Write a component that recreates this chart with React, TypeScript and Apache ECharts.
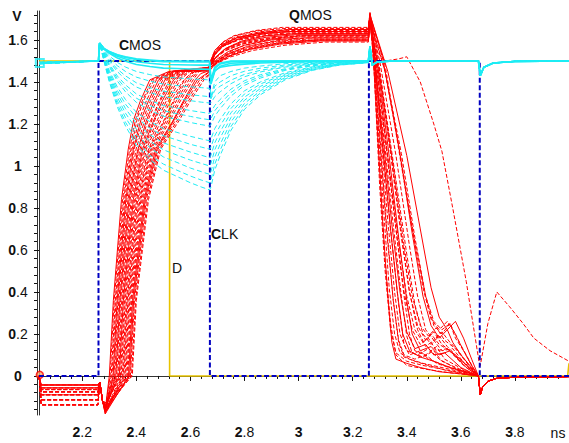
import React, { useEffect, useRef } from "react";
import * as echarts from "echarts";

const FONT = "'Liberation Sans', Arial, sans-serif";

// axis ranges & ticks
const xMin = 2.04;
const xMax = 4.0;
const yMin = -0.186;
const yMax = 1.738;
const xMajorTicks = [2.2, 2.4, 2.6, 2.8, 3, 3.2, 3.4, 3.6, 3.8];
const xMinorTicks = [2.04, 2.08, 2.12, 2.16, 2.24, 2.28, 2.32, 2.36, 2.44, 2.48, 2.52, 2.56, 2.64, 2.68, 2.72, 2.76, 2.84, 2.88, 2.92, 2.96, 3.04, 3.08, 3.12, 3.16, 3.24, 3.28, 3.32, 3.36, 3.44, 3.48, 3.52, 3.56, 3.64, 3.68, 3.72, 3.76, 3.84, 3.88, 3.92, 3.96];
const yMajorTicks = [0, 0.2, 0.4, 0.6, 0.8, 1, 1.2, 1.4, 1.6];
const yMinorTicks = [-0.16, -0.12, -0.08, -0.04, 0.04, 0.08, 0.12, 0.16, 0.24, 0.28, 0.32, 0.36, 0.44, 0.48, 0.52, 0.56, 0.64, 0.68, 0.72, 0.76, 0.84, 0.88, 0.92, 0.96, 1.04, 1.08, 1.12, 1.16, 1.24, 1.28, 1.32, 1.36, 1.44, 1.48, 1.52, 1.56, 1.64, 1.68, 1.72];

// CLK (blue dashed)
const clkX = [2.04, 2.26, 2.26, 2.672, 2.672, 3.26, 3.26, 3.67, 3.67, 4.0];
const clkY = [0, 0, 1.5, 1.5, 0, 0, 1.5, 1.5, 0, 0];

// D (yellow)
const dX = [2.04, 2.523, 2.523, 3.995, 4.0];
const dY = [1.5, 1.5, 0, 0, 0.06];

// QMOS (red) curves
const redLow = [-0.043, -0.138, -0.057, -0.114, -0.076, -0.09, -0.043, -0.065, -0.114, -0.057, -0.09, -0.076, -0.138, -0.043, -0.065, -0.114, -0.076, -0.09, -0.057, -0.138, -0.065, -0.114, -0.043, -0.09, -0.138, -0.076];
const redHead = [[2.258, null], [2.265, -0.03], [2.275, -0.12]];
const redRise = [
  [[2.285, -0.16], [2.3, 0], [2.315, 0.36], [2.345, 0.84], [2.37, 1.08], [2.39, 1.22], [2.415, 1.31], [2.45, 1.41], [2.52, 1.45], [2.668, 1.47]],
  [[2.287, -0.15], [2.331, 0], [2.346, 0.36], [2.381, 0.84], [2.413, 1.08], [2.451, 1.21], [2.482, 1.3], [2.522, 1.41], [2.57, 1.45], [2.668, 1.463]],
  [[2.284, -0.17], [2.307, 0], [2.322, 0.36], [2.353, 0.84], [2.38, 1.08], [2.404, 1.23], [2.43, 1.32], [2.466, 1.41], [2.531, 1.45], [2.668, 1.468]],
  [[2.286, -0.16], [2.351, 0], [2.366, 0.36], [2.405, 0.84], [2.442, 1.07], [2.492, 1.22], [2.526, 1.31], [2.57, 1.4], [2.604, 1.445], [2.668, 1.458]],
  [[2.288, -0.14], [2.317, 0], [2.332, 0.36], [2.365, 0.84], [2.394, 1.09], [2.424, 1.22], [2.452, 1.31], [2.49, 1.41], [2.548, 1.45], [2.668, 1.466]],
  [[2.285, -0.18], [2.371, 0], [2.386, 0.36], [2.429, 0.84], [2.471, 1.08], [2.533, 1.21], [2.57, 1.3], [2.618, 1.41], [2.638, 1.44], [2.668, 1.453]],
  [[2.287, -0.15], [2.31, 0], [2.325, 0.36], [2.357, 0.84], [2.384, 1.08], [2.41, 1.22], [2.437, 1.31], [2.474, 1.41], [2.537, 1.45], [2.668, 1.468]],
  [[2.29, -0.13], [2.341, 0], [2.356, 0.36], [2.393, 0.84], [2.428, 1.08], [2.472, 1.23], [2.504, 1.31], [2.546, 1.41], [2.587, 1.45], [2.668, 1.46]],
  [[2.286, -0.17], [2.361, 0], [2.376, 0.36], [2.417, 0.84], [2.456, 1.08], [2.512, 1.22], [2.548, 1.31], [2.594, 1.41], [2.621, 1.45], [2.668, 1.456]],
  [[2.288, -0.15], [2.324, 0], [2.339, 0.36], [2.373, 0.84], [2.404, 1.07], [2.438, 1.22], [2.467, 1.31], [2.506, 1.41], [2.559, 1.45], [2.668, 1.464]],
  [[2.285, -0.16], [2.382, 0], [2.397, 0.36], [2.441, 0.84], [2.485, 1.08], [2.553, 1.22], [2.593, 1.31], [2.642, 1.41], [2.668, 1.435]],
  [[2.289, -0.14], [2.334, 0], [2.349, 0.36], [2.385, 0.84], [2.418, 1.08], [2.458, 1.22], [2.489, 1.31], [2.53, 1.41], [2.576, 1.45], [2.668, 1.462]],
  [[2.286, -0.17], [2.354, 0], [2.369, 0.36], [2.409, 0.84], [2.447, 1.08], [2.499, 1.21], [2.533, 1.3], [2.578, 1.41], [2.61, 1.45], [2.668, 1.457]],
  [[2.288, -0.15], [2.314, 0], [2.329, 0.36], [2.361, 0.84], [2.389, 1.08], [2.417, 1.22], [2.445, 1.31], [2.482, 1.41], [2.542, 1.45], [2.668, 1.467]],
  [[2.287, -0.16], [2.344, 0], [2.359, 0.36], [2.397, 0.84], [2.432, 1.08], [2.478, 1.22], [2.511, 1.31], [2.554, 1.41], [2.593, 1.45], [2.668, 1.46]],
  [[2.29, -0.13], [2.385, 0], [2.4, 0.36], [2.445, 0.84], [2.49, 1.08], [2.56, 1.22], [2.6, 1.31], [2.65, 1.41], [2.668, 1.43]],
  [[2.285, -0.16], [2.303, 0], [2.318, 0.36], [2.349, 0.84], [2.375, 1.08], [2.397, 1.22], [2.422, 1.31], [2.458, 1.41], [2.526, 1.45], [2.668, 1.469]],
  [[2.287, -0.15], [2.327, 0], [2.342, 0.36], [2.377, 0.84], [2.408, 1.08], [2.444, 1.22], [2.474, 1.31], [2.514, 1.41], [2.565, 1.45], [2.668, 1.464]],
  [[2.286, -0.17], [2.375, 0], [2.39, 0.36], [2.433, 0.84], [2.476, 1.08], [2.54, 1.22], [2.578, 1.31], [2.626, 1.41], [2.668, 1.448]],
  [[2.288, -0.14], [2.32, 0], [2.335, 0.36], [2.369, 0.84], [2.399, 1.08], [2.431, 1.22], [2.459, 1.31], [2.498, 1.41], [2.554, 1.45], [2.668, 1.465]],
  [[2.285, -0.18], [2.348, 0], [2.363, 0.36], [2.401, 0.84], [2.437, 1.08], [2.485, 1.22], [2.519, 1.31], [2.562, 1.41], [2.598, 1.45], [2.668, 1.459]],
  [[2.287, -0.15], [2.365, 0], [2.38, 0.36], [2.421, 0.84], [2.461, 1.08], [2.519, 1.22], [2.556, 1.31], [2.602, 1.41], [2.626, 1.45], [2.668, 1.455]],
  [[2.29, -0.13], [2.337, 0], [2.352, 0.36], [2.389, 0.84], [2.423, 1.08], [2.465, 1.22], [2.496, 1.31], [2.538, 1.41], [2.582, 1.45], [2.668, 1.461]],
  [[2.286, -0.17], [2.358, 0], [2.373, 0.36], [2.413, 0.84], [2.452, 1.08], [2.506, 1.22], [2.541, 1.31], [2.586, 1.41], [2.615, 1.45], [2.668, 1.456]],
  [[2.288, -0.15], [2.378, 0], [2.393, 0.36], [2.437, 0.84], [2.48, 1.08], [2.546, 1.22], [2.585, 1.31], [2.634, 1.41], [2.668, 1.445]],
  [[2.287, -0.16], [2.368, 0], [2.383, 0.36], [2.425, 0.84], [2.466, 1.08], [2.526, 1.22], [2.563, 1.31], [2.61, 1.41], [2.632, 1.45], [2.668, 1.454]],
];
const redJump = [
  [[2.675, 1.5], [2.69, 1.54], [2.72, 1.58], [2.77, 1.61], [2.85, 1.63], [2.95, 1.64]],
  [[2.675, 1.49], [2.695, 1.52], [2.73, 1.55], [2.79, 1.58], [2.88, 1.605], [3.0, 1.62]],
  [[2.675, 1.5], [2.69, 1.55], [2.72, 1.59], [2.76, 1.62], [2.84, 1.645], [2.94, 1.66]],
  [[2.675, 1.48], [2.7, 1.5], [2.74, 1.53], [2.81, 1.56], [2.92, 1.585], [3.06, 1.6]],
  [[2.675, 1.49], [2.69, 1.53], [2.72, 1.57], [2.78, 1.6], [2.87, 1.62], [2.97, 1.63]],
  [[2.675, 1.48], [2.7, 1.51], [2.74, 1.545], [2.8, 1.575], [2.9, 1.6], [3.02, 1.61]],
  [[2.675, 1.5], [2.69, 1.545], [2.72, 1.585], [2.77, 1.615], [2.86, 1.64], [2.96, 1.65]],
  [[2.675, 1.47], [2.7, 1.49], [2.75, 1.52], [2.83, 1.55], [2.95, 1.575], [3.1, 1.59]],
  [[2.675, 1.48], [2.695, 1.52], [2.73, 1.555], [2.79, 1.585], [2.89, 1.61], [3.0, 1.62]],
  [[2.675, 1.48], [2.69, 1.53], [2.72, 1.57], [2.78, 1.605], [2.87, 1.63], [2.97, 1.64]],
  [[2.675, 1.48], [2.7, 1.505], [2.74, 1.535], [2.81, 1.565], [2.92, 1.59], [3.05, 1.6]],
  [[2.675, 1.48], [2.695, 1.52], [2.73, 1.56], [2.79, 1.595], [2.88, 1.62], [2.99, 1.63]],
  [[2.675, 1.47], [2.7, 1.5], [2.745, 1.535], [2.81, 1.57], [2.91, 1.595], [3.04, 1.61]],
  [[2.675, 1.48], [2.69, 1.53], [2.72, 1.575], [2.77, 1.61], [2.86, 1.635], [2.97, 1.65]],
  [[2.675, 1.46], [2.7, 1.5], [2.74, 1.54], [2.8, 1.575], [2.9, 1.605], [3.02, 1.62]],
  [[2.675, 1.47], [2.7, 1.495], [2.75, 1.53], [2.82, 1.56], [2.93, 1.585], [3.08, 1.6]],
  [[2.675, 1.48], [2.695, 1.515], [2.73, 1.55], [2.79, 1.58], [2.89, 1.603], [3.01, 1.615]],
  [[2.675, 1.49], [2.69, 1.535], [2.72, 1.575], [2.775, 1.61], [2.86, 1.635], [2.96, 1.645]],
  [[2.675, 1.47], [2.7, 1.495], [2.745, 1.525], [2.82, 1.555], [2.93, 1.58], [3.08, 1.595]],
  [[2.675, 1.49], [2.69, 1.53], [2.72, 1.57], [2.78, 1.603], [2.87, 1.625], [2.98, 1.635]],
  [[2.675, 1.5], [2.69, 1.55], [2.72, 1.59], [2.765, 1.62], [2.845, 1.643], [2.95, 1.655]],
  [[2.675, 1.47], [2.7, 1.5], [2.74, 1.535], [2.805, 1.567], [2.91, 1.592], [3.04, 1.605]],
  [[2.675, 1.48], [2.695, 1.52], [2.73, 1.558], [2.79, 1.59], [2.88, 1.613], [2.99, 1.625]],
  [[2.675, 1.49], [2.69, 1.535], [2.72, 1.573], [2.78, 1.607], [2.87, 1.63], [2.97, 1.64]],
  [[2.675, 1.46], [2.7, 1.49], [2.75, 1.525], [2.82, 1.557], [2.93, 1.585], [3.07, 1.6]],
  [[2.675, 1.48], [2.695, 1.52], [2.73, 1.56], [2.79, 1.595], [2.88, 1.62], [2.99, 1.63]],
];
const redFall = [
  [[3.258, 1.64], [3.264, 1.72], [3.272, 1.62], [3.29, 1.2], [3.31, 0.75], [3.33, 0.38], [3.345, 0.16], [3.36, 0.08], [3.4, 0.06], [3.45, 0.04], [3.52, 0.02], [3.6, 0.01], [3.665, 0.0]],
  [[3.258, 1.62], [3.264, 1.71], [3.275, 1.58], [3.3, 1.15], [3.325, 0.72], [3.35, 0.36], [3.37, 0.16], [3.39, 0.09], [3.43, 0.07], [3.48, 0.05], [3.55, 0.025], [3.62, 0.01], [3.665, 0.0]],
  [[3.258, 1.66], [3.264, 1.73], [3.28, 1.55], [3.31, 1.12], [3.34, 0.7], [3.37, 0.34], [3.39, 0.15], [3.41, 0.1], [3.45, 0.12], [3.48, 0.08], [3.54, 0.05], [3.61, 0.02], [3.665, 0.0]],
  [[3.258, 1.6], [3.264, 1.69], [3.28, 1.52], [3.32, 1.08], [3.35, 0.72], [3.38, 0.38], [3.4, 0.19], [3.42, 0.11], [3.46, 0.09], [3.5, 0.12], [3.53, 0.07], [3.6, 0.03], [3.665, 0.0]],
  [[3.258, 1.63], [3.264, 1.72], [3.285, 1.52], [3.32, 1.15], [3.36, 0.7], [3.39, 0.38], [3.41, 0.2], [3.43, 0.12], [3.47, 0.1], [3.51, 0.14], [3.54, 0.08], [3.61, 0.03], [3.665, 0.0]],
  [[3.258, 1.61], [3.264, 1.7], [3.29, 1.5], [3.33, 1.1], [3.37, 0.66], [3.4, 0.36], [3.42, 0.2], [3.45, 0.12], [3.49, 0.14], [3.52, 0.1], [3.56, 0.12], [3.62, 0.04], [3.665, 0.0]],
  [[3.258, 1.65], [3.264, 1.73], [3.29, 1.55], [3.34, 1.08], [3.38, 0.68], [3.41, 0.4], [3.44, 0.22], [3.47, 0.14], [3.5, 0.17], [3.53, 0.12], [3.57, 0.13], [3.62, 0.05], [3.665, 0.0]],
  [[3.258, 1.59], [3.264, 1.68], [3.3, 1.45], [3.35, 1.02], [3.4, 0.58], [3.43, 0.34], [3.46, 0.2], [3.49, 0.15], [3.52, 0.19], [3.55, 0.14], [3.58, 0.1], [3.63, 0.04], [3.665, 0.0]],
  [[3.258, 1.62], [3.264, 1.71], [3.3, 1.5], [3.36, 1.05], [3.41, 0.62], [3.44, 0.38], [3.47, 0.22], [3.5, 0.17], [3.53, 0.21], [3.56, 0.16], [3.59, 0.12], [3.63, 0.05], [3.665, 0.0]],
  [[3.258, 1.64], [3.264, 1.72], [3.31, 1.52], [3.37, 1.1], [3.42, 0.68], [3.46, 0.38], [3.49, 0.24], [3.52, 0.18], [3.55, 0.22], [3.57, 0.16], [3.6, 0.1], [3.64, 0.04], [3.665, 0.0]],
  [[3.258, 1.6], [3.264, 1.69], [3.32, 1.45], [3.38, 1.06], [3.43, 0.66], [3.47, 0.38], [3.5, 0.24], [3.53, 0.2], [3.56, 0.25], [3.58, 0.18], [3.61, 0.12], [3.64, 0.05], [3.665, 0.0]],
  [[3.258, 1.63], [3.264, 1.71], [3.32, 1.48], [3.37, 1.08], [3.42, 0.7], [3.46, 0.42], [3.49, 0.27], [3.52, 0.22], [3.55, 0.26], [3.58, 0.2], [3.61, 0.12], [3.64, 0.05], [3.665, 0.0]],
  [[3.258, 1.61], [3.264, 1.7], [3.32, 1.45], [3.38, 1.02], [3.43, 0.64], [3.47, 0.38], [3.5, 0.26], [3.53, 0.22], [3.56, 0.25], [3.59, 0.17], [3.62, 0.1], [3.645, 0.04], [3.665, 0.0]],
  [[3.258, 1.65], [3.264, 1.72], [3.33, 1.45], [3.4, 1.05], [3.45, 0.7], [3.49, 0.42], [3.52, 0.28], [3.55, 0.22], [3.58, 0.26], [3.61, 0.18], [3.64, 0.08], [3.665, 0.0]],
  [[3.258, 1.62], [3.264, 1.71], [3.28, 1.45], [3.3, 1.0], [3.32, 0.55], [3.34, 0.25], [3.36, 0.1], [3.4, 0.05], [3.48, 0.03], [3.56, 0.015], [3.665, 0.0]],
  [[3.258, 1.6], [3.264, 1.69], [3.28, 1.56], [3.32, 1.5], [3.37, 1.51], [3.4, 1.52], [3.45, 1.4], [3.5, 1.2], [3.53, 1.07], [3.57, 0.8], [3.62, 0.45], [3.667, 0.07], [3.672, 0.05], [3.7, 0.25], [3.733, 0.4], [3.78, 0.33], [3.83, 0.25], [3.87, 0.18], [3.93, 0.12], [4.0, 0.07]],
  [[3.258, 1.615], [3.264, 1.7], [3.275, 1.56], [3.3, 1.12], [3.325, 0.7], [3.35, 0.36], [3.37, 0.17], [3.39, 0.1], [3.43, 0.08], [3.47, 0.1], [3.51, 0.06], [3.58, 0.03], [3.665, 0.0]],
  [[3.258, 1.645], [3.264, 1.72], [3.28, 1.54], [3.305, 1.14], [3.33, 0.74], [3.355, 0.4], [3.375, 0.2], [3.4, 0.12], [3.44, 0.1], [3.48, 0.13], [3.52, 0.08], [3.59, 0.03], [3.665, 0.0]],
  [[3.258, 1.595], [3.264, 1.68], [3.28, 1.5], [3.315, 1.1], [3.345, 0.72], [3.375, 0.4], [3.4, 0.21], [3.43, 0.13], [3.47, 0.15], [3.5, 0.1], [3.54, 0.11], [3.6, 0.04], [3.665, 0.0]],
  [[3.258, 1.635], [3.264, 1.72], [3.285, 1.5], [3.325, 1.08], [3.36, 0.7], [3.39, 0.4], [3.42, 0.22], [3.45, 0.15], [3.48, 0.18], [3.51, 0.12], [3.55, 0.13], [3.61, 0.05], [3.665, 0.0]],
  [[3.258, 1.655], [3.264, 1.73], [3.272, 1.64], [3.285, 1.3], [3.3, 0.9], [3.32, 0.5], [3.34, 0.22], [3.36, 0.11], [3.4, 0.07], [3.46, 0.05], [3.54, 0.03], [3.62, 0.01], [3.665, 0.0]],
  [[3.258, 1.605], [3.264, 1.69], [3.29, 1.46], [3.33, 1.04], [3.37, 0.64], [3.4, 0.38], [3.43, 0.22], [3.46, 0.16], [3.49, 0.2], [3.52, 0.15], [3.56, 0.12], [3.62, 0.05], [3.665, 0.0]],
  [[3.258, 1.625], [3.264, 1.71], [3.28, 1.52], [3.31, 1.1], [3.34, 0.7], [3.365, 0.4], [3.385, 0.2], [3.41, 0.12], [3.45, 0.09], [3.5, 0.07], [3.56, 0.04], [3.62, 0.02], [3.665, 0.0]],
  [[3.258, 1.64], [3.264, 1.72], [3.295, 1.48], [3.34, 1.06], [3.38, 0.66], [3.41, 0.4], [3.44, 0.24], [3.47, 0.17], [3.5, 0.21], [3.53, 0.15], [3.57, 0.11], [3.625, 0.05], [3.665, 0.0]],
  [[3.258, 1.6], [3.264, 1.69], [3.3, 1.42], [3.35, 1.0], [3.39, 0.62], [3.42, 0.38], [3.45, 0.24], [3.48, 0.19], [3.51, 0.23], [3.54, 0.17], [3.58, 0.13], [3.63, 0.05], [3.665, 0.0]],
  [[3.258, 1.63], [3.264, 1.71], [3.276, 1.58], [3.295, 1.18], [3.315, 0.78], [3.335, 0.42], [3.355, 0.2], [3.375, 0.11], [3.41, 0.08], [3.46, 0.06], [3.53, 0.04], [3.6, 0.02], [3.665, 0.0]],
];
const redTail = [[3.672, -0.09], [3.68, -0.055], [3.7, -0.025], [3.73, -0.012], [3.8, -0.006], [4.0, -0.003]];
const redSolid = [0, 5, 9, 13, 18, 22];

// CMOS (cyan) curves
const cmosStart = [1.49, 1.488, 1.492, 1.486, 1.49, 1.494, 1.487, 1.491, 1.489, 1.493, 1.486, 1.49, 1.492, 1.488, 1.491, 1.487, 1.493, 1.489];
const cmosDropX = [2.28, 2.3, 2.33, 2.36, 2.4, 2.45, 2.5, 2.55, 2.6, 2.64, 2.671];
const cmosDrop = [
  [1.56, 1.545, 1.53, 1.52, 1.51, 1.505, 1.5, 1.5, 1.5, 1.5, 1.5],
  [1.56, 1.544, 1.528, 1.517, 1.507, 1.501, 1.496, 1.496, 1.495, 1.495, 1.495],
  [1.558, 1.54, 1.522, 1.509, 1.496, 1.489, 1.483, 1.482, 1.481, 1.48, 1.48],
  [1.551, 1.524, 1.493, 1.471, 1.45, 1.435, 1.424, 1.419, 1.415, 1.412, 1.41],
  [1.547, 1.514, 1.477, 1.45, 1.423, 1.404, 1.39, 1.383, 1.377, 1.373, 1.37],
  [1.543, 1.505, 1.461, 1.429, 1.396, 1.373, 1.356, 1.348, 1.339, 1.334, 1.33],
  [1.54, 1.498, 1.449, 1.412, 1.376, 1.35, 1.33, 1.321, 1.311, 1.304, 1.3],
  [1.536, 1.486, 1.428, 1.386, 1.343, 1.312, 1.288, 1.276, 1.264, 1.256, 1.25],
  [1.53, 1.472, 1.404, 1.353, 1.303, 1.265, 1.237, 1.222, 1.207, 1.197, 1.19],
  [1.523, 1.455, 1.375, 1.316, 1.256, 1.211, 1.178, 1.16, 1.141, 1.129, 1.12],
  [1.519, 1.446, 1.359, 1.294, 1.23, 1.18, 1.144, 1.124, 1.103, 1.09, 1.08],
  [1.515, 1.436, 1.343, 1.273, 1.203, 1.149, 1.11, 1.088, 1.066, 1.051, 1.04],
  [1.507, 1.418, 1.31, 1.23, 1.15, 1.087, 1.043, 1.017, 0.99, 0.973, 0.96],
  [1.5, 1.4, 1.28, 1.19, 1.1, 1.03, 0.98, 0.95, 0.92, 0.9, 0.886],
  [1.556, 1.536, 1.514, 1.499, 1.483, 1.474, 1.466, 1.464, 1.462, 1.461, 1.46],
  [1.533, 1.479, 1.416, 1.37, 1.323, 1.288, 1.263, 1.249, 1.236, 1.226, 1.22],
  [1.511, 1.427, 1.327, 1.251, 1.176, 1.118, 1.077, 1.052, 1.028, 1.012, 1.0],
  [1.503, 1.408, 1.294, 1.208, 1.123, 1.051, 1.009, 0.98, 0.952, 0.933, 0.92],
];
const cmosRecoverX = [2.676, 2.69, 2.71, 2.75, 2.8, 2.86, 2.95, 3.05, 3.15, 3.258];
const cmosRecover = [
  [1.41, 1.47, 1.49, 1.5, 1.5, 1.5, 1.5, 1.5, 1.5, 1.5],
  [1.4, 1.465, 1.486, 1.497, 1.498, 1.499, 1.5, 1.5, 1.5, 1.5],
  [1.39, 1.45, 1.475, 1.489, 1.492, 1.495, 1.497, 1.499, 1.5, 1.5],
  [1.33, 1.4, 1.43, 1.45, 1.466, 1.476, 1.487, 1.493, 1.497, 1.499],
  [1.32, 1.38, 1.4, 1.43, 1.451, 1.466, 1.481, 1.49, 1.496, 1.498],
  [1.32, 1.36, 1.38, 1.409, 1.436, 1.456, 1.475, 1.488, 1.494, 1.498],
  [1.3, 1.33, 1.353, 1.392, 1.425, 1.448, 1.471, 1.485, 1.493, 1.497],
  [1.256, 1.288, 1.317, 1.366, 1.406, 1.435, 1.463, 1.482, 1.492, 1.497],
  [1.197, 1.237, 1.273, 1.333, 1.384, 1.419, 1.455, 1.477, 1.49, 1.496],
  [1.129, 1.178, 1.221, 1.296, 1.358, 1.401, 1.444, 1.472, 1.488, 1.495],
  [1.09, 1.144, 1.192, 1.274, 1.343, 1.391, 1.438, 1.469, 1.486, 1.495],
  [1.051, 1.11, 1.163, 1.253, 1.328, 1.38, 1.433, 1.466, 1.485, 1.494],
  [0.973, 1.043, 1.104, 1.21, 1.298, 1.359, 1.421, 1.46, 1.482, 1.493],
  [0.9, 0.98, 1.05, 1.17, 1.27, 1.34, 1.41, 1.455, 1.48, 1.492],
  [1.4, 1.455, 1.47, 1.479, 1.485, 1.49, 1.494, 1.497, 1.499, 1.5],
  [1.226, 1.263, 1.295, 1.35, 1.395, 1.427, 1.459, 1.479, 1.491, 1.496],
  [1.012, 1.077, 1.134, 1.231, 1.313, 1.37, 1.427, 1.463, 1.484, 1.493],
  [0.933, 1.009, 1.075, 1.188, 1.283, 1.349, 1.415, 1.457, 1.481, 1.492],
];
const cmosTail = [[3.264, 1.57], [3.272, 1.48], [3.29, 1.495], [3.35, 1.5], [3.665, 1.5], [3.672, 1.43], [3.685, 1.47], [3.72, 1.49], [3.8, 1.498], [4.0, 1.5]];
const cmosSolid = [0, 1, 2, 14];

const C_RED = "#ff0000";
const C_CYAN = "#1eecf4";
const C_BLUE = "#0000c0";
const C_YEL = "#e8c300";

function buildRed(i: number) {
  const low = redLow[i];
  const pts: any[] = [[2.04, 0.0], [2.048, low]];
  redHead.forEach((p) => pts.push([p[0], p[1] === null ? low : p[1]]));
  redRise[i].forEach((p) => pts.push(p));
  redJump[i].forEach((p) => pts.push(p));
  redFall[i].forEach((p) => pts.push(p));
  const last = redFall[i][redFall[i].length - 1];
  if (last[0] < 4.0) redTail.forEach((p) => pts.push(p));
  return pts;
}

function buildCyan(i: number) {
  const pts: any[] = [[2.04, cmosStart[i]], [2.255, 1.5], [2.26, 1.5], [2.264, 1.585]];
  cmosDropX.forEach((x, k) => pts.push([x, cmosDrop[i][k]]));
  cmosRecoverX.forEach((x, k) => pts.push([x, cmosRecover[i][k]]));
  cmosTail.forEach((p) => pts.push(p));
  return pts;
}

const richLabel = {
  b: { fontWeight: "bold", fontSize: 14, fontFamily: FONT, color: "#111" },
  n: { fontSize: 14, fontFamily: FONT, color: "#111" },
};
const fmt = (v: number) => {
  const s = String(v);
  return s.length > 1 ? `{b|${s[0]}}{n|${s.slice(1)}}` : `{b|${s}}`;
};

export default function App() {
  const ref = useRef<HTMLDivElement>(null);
  useEffect(() => {
    if (!ref.current) return;
    const chart = echarts.init(ref.current, null, { renderer: "svg" });
    const series: any[] = [];
    series.push({
      type: "line", name: "D", data: dX.map((x, k) => [x, dY[k]]), showSymbol: false,
      lineStyle: { color: C_YEL, width: 1.6 }, xAxisIndex: 0, yAxisIndex: 0,
    });
    for (let i = 0; i < redRise.length; i++) {
      series.push({
        type: "line", name: "QMOS" + i, data: buildRed(i), showSymbol: false,
        lineStyle: { color: C_RED, width: 1, type: redSolid.includes(i) ? "solid" : [4, 2] },
        xAxisIndex: 0, yAxisIndex: 0,
      });
    }
    series.push({
      type: "line", name: "CLK", data: clkX.map((x, k) => [x, clkY[k]]), showSymbol: false,
      lineStyle: { color: C_BLUE, width: 2, type: [5, 2.5] }, xAxisIndex: 0, yAxisIndex: 0,
    });
    for (let i = 0; i < cmosDrop.length; i++) {
      const solid = cmosSolid.includes(i);
      series.push({
        type: "line", name: "CMOS" + i, data: buildCyan(i), showSymbol: false,
        lineStyle: { color: C_CYAN, width: solid ? 1.6 : 1, type: solid ? "solid" : [5, 3] },
        xAxisIndex: 0, yAxisIndex: 0,
      });
    }
    series.push({
      type: "scatter", data: [[2.043, 1.49]], symbol: "rect", symbolSize: 8,
      itemStyle: { color: "rgba(0,0,0,0)", borderColor: C_CYAN, borderWidth: 2 },
      xAxisIndex: 0, yAxisIndex: 0, clip: false,
    });
    series.push({
      type: "scatter", data: [[2.043, 0.005]], symbol: "circle", symbolSize: 7,
      itemStyle: { color: "#f7a868", borderColor: C_RED, borderWidth: 1.5 },
      xAxisIndex: 0, yAxisIndex: 0, clip: false,
    });

    const axisLineStyle = { color: "#333", width: 1 };
    const textStyle = (extra: any) => ({ fontFamily: FONT, fontSize: 14, fill: "#111", ...extra });

    chart.setOption({
      animation: false,
      backgroundColor: "#fff",
      grid: { left: 39, right: 0, top: 11, bottom: 28, containLabel: false },
      xAxis: [
        {
          type: "value", min: xMin, max: xMax, position: "bottom",
          axisLine: { show: true, lineStyle: axisLineStyle },
          axisTick: { show: true, length: 5, customValues: xMajorTicks, lineStyle: { color: "#111" } },
          axisLabel: { show: true, customValues: xMajorTicks, formatter: fmt, rich: richLabel, margin: 10 },
          splitLine: { show: false },
        },
        {
          type: "value", min: xMin, max: xMax, position: "bottom", offset: 2,
          axisLine: { show: true, lineStyle: axisLineStyle },
          axisTick: { show: true, length: 3, customValues: xMinorTicks, lineStyle: { color: "#111" } },
          axisLabel: { show: false },
          splitLine: { show: false },
        },
      ],
      yAxis: [
        {
          type: "value", min: yMin, max: yMax, position: "left",
          axisLine: { show: true, lineStyle: axisLineStyle },
          axisTick: { show: true, length: 5, customValues: yMajorTicks, lineStyle: { color: "#111" } },
          axisLabel: { show: true, customValues: yMajorTicks, formatter: fmt, rich: richLabel, margin: 21, align: "center" },
          splitLine: { show: false },
        },
        {
          type: "value", min: yMin, max: yMax, position: "left", offset: 2,
          axisLine: { show: true, lineStyle: axisLineStyle },
          axisTick: { show: true, length: 3, customValues: yMinorTicks, lineStyle: { color: "#111" } },
          axisLabel: { show: false },
          splitLine: { show: false },
        },
      ],
      graphic: [
        { type: "text", x: 17, y: 16, style: textStyle({ text: "V", fontWeight: "bold", align: "center", verticalAlign: "middle" }) },
        { type: "text", x: 558, y: 433, style: textStyle({ text: "ns", align: "center", verticalAlign: "middle" }) },
        { type: "text", x: 119, y: 45, style: textStyle({ text: "{b|C}{n|MOS}", rich: richLabel, align: "left", verticalAlign: "middle" }) },
        { type: "text", x: 289, y: 15, style: textStyle({ text: "{b|Q}{n|MOS}", rich: richLabel, align: "left", verticalAlign: "middle" }) },
        { type: "text", x: 211, y: 234, style: textStyle({ text: "{b|C}{n|LK}", rich: richLabel, align: "left", verticalAlign: "middle" }) },
        { type: "text", x: 172, y: 268, style: textStyle({ text: "D", align: "left", verticalAlign: "middle" }) },
      ],
      series,
    });
    return () => chart.dispose();
  }, []);
  return (
    <div
      ref={ref}
      style={{ position: "fixed", left: 0, top: 0, width: 569, height: 443, background: "#fff" }}
    />
  );
}
